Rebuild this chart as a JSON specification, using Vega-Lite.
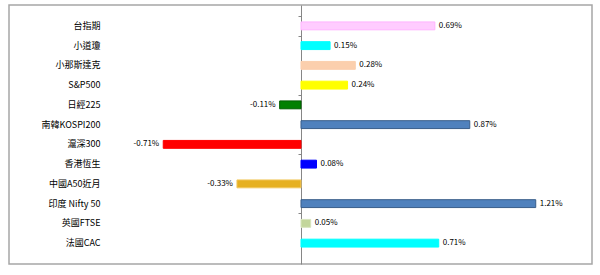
{
  "$schema": "https://vega.github.io/schema/vega-lite/v6.json",
  "width": 583,
  "height": 259,
  "autosize": "none",
  "padding": {"left": 9, "top": 5, "right": 8, "bottom": 11},
  "background": "white",
  "config": {
    "view": {"stroke": "#A6A6A6", "strokeWidth": 1.5},
    "locale": {"number": {"decimal": ".", "thousands": ",", "grouping": [3], "currency": ["$", ""], "minus": "-"}}
  },
  "data": {"values": [
    {"name": "台指期", "v": 0.0069, "color": "#FFCCFF", "stroke": "#FFB3FF"},
    {"name": "小道瓊", "v": 0.0015, "color": "#00FFFF", "stroke": "#00FFFF"},
    {"name": "小那斯達克", "v": 0.0028, "color": "#FBCFAD", "stroke": "#FBCFAD"},
    {"name": "S&P500", "v": 0.0024, "color": "#FFFF00", "stroke": "#FFFF00"},
    {"name": "日經225", "v": -0.0011, "color": "#008000", "stroke": "#006000"},
    {"name": "南韓KOSPI200", "v": 0.0087, "color": "#4F81BD", "stroke": "#385D8A"},
    {"name": "滬深300", "v": -0.0071, "color": "#FF0000", "stroke": "#FF0000"},
    {"name": "香港恆生", "v": 0.0008, "color": "#0000FF", "stroke": "#0000FF"},
    {"name": "中國A50近月", "v": -0.0033, "color": "#E6B021", "stroke": "#F2C75C"},
    {"name": "印度 Nifty 50", "v": 0.0121, "color": "#4F81BD", "stroke": "#385D8A"},
    {"name": "英國FTSE", "v": 0.0005, "color": "#C3D69B", "stroke": "#D7E4BD"},
    {"name": "法國CAC", "v": 0.0071, "color": "#00FFFF", "stroke": "#00FFFF"}
  ]},
  "layer": [
    {
      "mark": {"type": "bar", "height": {"band": 0.4}, "strokeWidth": 1},
      "encoding": {
        "x": {"field": "v", "type": "quantitative", "scale": {"domain": [-0.01505, 0.015], "nice": false, "zero": false}, "axis": null},
        "fill": {"field": "color", "type": "nominal", "scale": null},
        "stroke": {"field": "stroke", "type": "nominal", "scale": null},
        "y": {
          "field": "name", "type": "nominal", "sort": null, "title": null,
          "scale": {"paddingInner": 0, "paddingOuter": 0.557},
          "axis": {"orient": "left", "offset": -91, "domain": false, "ticks": false, "labelPadding": 0,
                   "labelFont": "Noto Sans CJK TC", "labelFontSize": 9, "labelColor": "#000000"}
        }
      }
    },
    {
      "transform": [{"filter": "datum.v > 0"}],
      "mark": {"type": "text", "align": "left", "dx": 4, "font": "Noto Sans CJK TC", "fontSize": 8, "color": "#000000"},
      "encoding": {
        "x": {"field": "v", "type": "quantitative"},
        "y": {"field": "name", "type": "nominal", "sort": null, "axis": null},
        "text": {"field": "v", "type": "quantitative", "format": ".2%"}
      }
    },
    {
      "transform": [{"filter": "datum.v < 0"}],
      "mark": {"type": "text", "align": "right", "dx": -4, "font": "Noto Sans CJK TC", "fontSize": 8, "color": "#000000"},
      "encoding": {
        "x": {"field": "v", "type": "quantitative"},
        "text": {"field": "v", "type": "quantitative", "format": ".2%"},
        "y": {
          "field": "name", "type": "nominal", "sort": null, "title": null,
          "axis": {"orient": "left", "offset": -292, "domain": true, "domainColor": "#868686", "domainWidth": 1,
                   "ticks": true, "tickSize": 3, "tickColor": "#868686", "tickBand": "extent",
                   "values": ["台指期", "S&P500", "滬深300", "印度 Nifty 50"],
                   "labels": false}
        }
      }
    }
  ],
  "resolve": {"axis": {"y": "independent"}}
}
